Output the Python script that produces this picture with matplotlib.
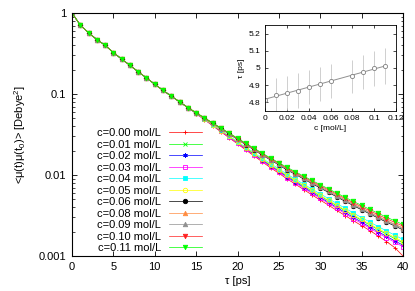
import numpy as np
import matplotlib
matplotlib.use("Agg")
import matplotlib.pyplot as plt
from matplotlib.ticker import FixedLocator, LogLocator, NullFormatter, FuncFormatter

plt.rcParams['font.family'] = ['Liberation Sans', 'DejaVu Sans']
plt.rcParams['font.size'] = 8
plt.rcParams['mathtext.fontset'] = 'custom'
plt.rcParams['mathtext.rm'] = 'Liberation Sans'
plt.rcParams['mathtext.it'] = 'Liberation Sans:italic'

# time axis [ps]
tau = list(range(41))

# t = 0..14, all concentrations lie on top of each other
head = [1.0, 0.71, 0.57, 0.47, 0.40, 0.325, 0.27, 0.226, 0.188, 0.158,
        0.132, 0.111, 0.094, 0.080, 0.068]

# t = 15..40 for each concentration
tail_000 = [0.0573, 0.0482, 0.0406, 0.0341, 0.0288, 0.0242, 0.0204, 0.0172, 0.0145, 0.0123,
            0.0105, 0.00893, 0.00770, 0.00660, 0.00568, 0.00490, 0.00424, 0.00365, 0.00316,
            0.00273, 0.00237, 0.00206, 0.00177, 0.00151, 0.00127, 0.00100]
tail_001 = [0.0577, 0.0489, 0.0415, 0.0351, 0.0298, 0.0252, 0.0214, 0.0182, 0.0155, 0.0132,
            0.0114, 0.00973, 0.00846, 0.00730, 0.00633, 0.00550, 0.00479, 0.00416, 0.00362,
            0.00315, 0.00275, 0.00241, 0.00212, 0.00186, 0.00164, 0.00145]
tail_002 = [0.0576, 0.0486, 0.0412, 0.0348, 0.0295, 0.0249, 0.0211, 0.0179, 0.0152, 0.0129,
            0.0111, 0.00945, 0.00819, 0.00705, 0.00610, 0.00529, 0.00459, 0.00398, 0.00345,
            0.00300, 0.00262, 0.00228, 0.00200, 0.00175, 0.00154, 0.00136]
tail_003 = [0.0575, 0.0485, 0.0410, 0.0346, 0.0292, 0.0246, 0.0208, 0.0176, 0.0149, 0.0127,
            0.0109, 0.00926, 0.00802, 0.00688, 0.00595, 0.00515, 0.00446, 0.00386, 0.00334,
            0.00290, 0.00252, 0.00220, 0.00192, 0.00168, 0.00148, 0.00130]
tail_004 = [0.0579, 0.0493, 0.0420, 0.0357, 0.0304, 0.0258, 0.0220, 0.0188, 0.0160, 0.0138,
            0.0119, 0.0102, 0.00889, 0.00770, 0.00670, 0.00585, 0.00511, 0.00445, 0.00389,
            0.00340, 0.00298, 0.00262, 0.00231, 0.00204, 0.00181, 0.00160]
tail_005 = [0.0578, 0.0490, 0.0417, 0.0353, 0.0300, 0.0254, 0.0216, 0.0184, 0.0157, 0.0134,
            0.0115, 0.00989, 0.00861, 0.00743, 0.00646, 0.00562, 0.00490, 0.00426, 0.00371,
            0.00324, 0.00283, 0.00248, 0.00218, 0.00192, 0.00170, 0.00150]
tail_006 = [0.0586, 0.0503, 0.0433, 0.0372, 0.0320, 0.0275, 0.0237, 0.0204, 0.0176, 0.0153,
            0.0133, 0.0115, 0.0102, 0.00891, 0.00784, 0.00691, 0.00610, 0.00537, 0.00474,
            0.00419, 0.00372, 0.00330, 0.00294, 0.00262, 0.00235, 0.00210]
tail_008 = [0.0587, 0.0505, 0.0436, 0.0376, 0.0324, 0.0279, 0.0241, 0.0208, 0.0180, 0.0156,
            0.0136, 0.0119, 0.0105, 0.00920, 0.00812, 0.00717, 0.00634, 0.00560, 0.00495,
            0.00439, 0.00390, 0.00347, 0.00310, 0.00276, 0.00248, 0.00223]
tail_009 = [0.0586, 0.0505, 0.0435, 0.0374, 0.0323, 0.0278, 0.0240, 0.0207, 0.0179, 0.0155,
            0.0135, 0.0118, 0.0104, 0.00910, 0.00802, 0.00708, 0.00626, 0.00552, 0.00488,
            0.00431, 0.00383, 0.00340, 0.00304, 0.00271, 0.00243, 0.00218]
tail_010 = [0.0588, 0.0507, 0.0439, 0.0378, 0.0327, 0.0282, 0.0244, 0.0211, 0.0183, 0.0159,
            0.0139, 0.0121, 0.0107, 0.00944, 0.00834, 0.00738, 0.00655, 0.00579, 0.00513,
            0.00455, 0.00405, 0.00361, 0.00323, 0.00289, 0.00260, 0.00234]
tail_011 = [0.0589, 0.0509, 0.0441, 0.0381, 0.0330, 0.0285, 0.0247, 0.0214, 0.0186, 0.0162,
            0.0142, 0.0124, 0.0110, 0.00968, 0.00857, 0.00760, 0.00675, 0.00598, 0.00531,
            0.00472, 0.00421, 0.00376, 0.00337, 0.00302, 0.00272, 0.00245]

labels = ['c=0.00 mol/L', 'c=0.01 mol/L', 'c=0.02 mol/L', 'c=0.03 mol/L', 'c=0.04 mol/L',
          'c=0.05 mol/L', 'c=0.06 mol/L', 'c=0.08 mol/L', 'c=0.09 mol/L', 'c=0.10 mol/L',
          'c=0.11 mol/L']
tails = [tail_000, tail_001, tail_002, tail_003, tail_004, tail_005, tail_006,
         tail_008, tail_009, tail_010, tail_011]

# inset: relaxation time vs concentration
conc = [0.0, 0.01, 0.02, 0.03, 0.04, 0.05, 0.06, 0.08, 0.09, 0.10, 0.11]
tau_fit = [4.813, 4.841, 4.856, 4.869, 4.889, 4.908, 4.926, 4.951, 4.977, 4.998, 5.011]
tau_err = [0.0, 0.10, 0.10, 0.10, 0.10, 0.097, 0.10, 0.096, 0.098, 0.10, 0.105]

colors = ['#ff0000', '#00ff00', '#0000ff', '#ff00ff', '#00ffff', '#ffff00', '#000000',
          '#ff8c40', '#909090', '#ff2020', '#00ff00']
markers = ['+', 'x', (6, 2, 0), 's', 's', 'o', 'o', '^', '^', 'v', 'v']
filled = [True, True, True, False, True, False, True, True, True, True, True]

fig = plt.figure(figsize=(4.15, 2.91), dpi=100)
ax = fig.add_axes([72 / 415, 1 - 256 / 291, 331 / 415, 243 / 291])

for lab, tl, col, mk, fl in zip(labels, tails, colors, markers, filled):
    ax.plot(tau, head + tl, color=col, lw=0.5, marker=mk, ms=3.2, mew=0.6,
            mfc=col if fl else 'none', mec=col, label=lab)

ax.set_yscale('log')
ax.set_xlim(0, 40)
ax.set_ylim(1e-3, 1)
ax.xaxis.set_major_locator(FixedLocator([0, 5, 10, 15, 20, 25, 30, 35, 40]))
ax.yaxis.set_major_locator(FixedLocator([1e-3, 1e-2, 1e-1, 1]))
ax.yaxis.set_major_formatter(FuncFormatter(lambda v, p: '%g' % v))
ax.yaxis.set_minor_locator(LogLocator(base=10, subs=np.arange(2, 10)))
ax.yaxis.set_minor_formatter(NullFormatter())
ax.tick_params(which='both', direction='in', top=True, right=True, labelsize=8, pad=4)
ax.tick_params(which='major', length=3.5, width=0.6)
ax.tick_params(which='minor', length=1.8, width=0.5)
for s in ax.spines.values():
    s.set_linewidth(0.8)
ax.set_xlabel(r'τ [ps]', fontsize=8, labelpad=3)
ax.set_ylabel(r'<μ(t)μ(t$_0$)> [Debye$^2$]', fontsize=8, labelpad=8)

ax.legend(loc='lower right', bbox_to_anchor=(0.393, 0.012), frameon=False, fontsize=8,
          markerfirst=False, numpoints=1, handlelength=3.0, handletextpad=0.7,
          labelspacing=0.135, borderpad=0, borderaxespad=0)

# inset
ins = fig.add_axes([265 / 415, 1 - 111 / 291, 131 / 415, 86 / 291])
slope, icpt = np.polyfit(conc, tau_fit, 1)
cfit = np.array([conc[0], conc[-1]])
ins.plot(cfit, icpt + slope * cfit, color='#909090', lw=0.7)
ins.errorbar(conc, tau_fit, yerr=tau_err, fmt='o', ms=3, mfc='white', mec='#808080',
             mew=0.6, ecolor='#c8c8c8', elinewidth=0.6, capsize=0)
ins.set_xlim(0, 0.12)
ins.set_ylim(4.75, 5.25)
ins.xaxis.set_major_locator(FixedLocator([0, 0.02, 0.04, 0.06, 0.08, 0.1, 0.12]))
ins.yaxis.set_major_locator(FixedLocator([4.8, 4.9, 5.0, 5.1, 5.2]))
ins.xaxis.set_major_formatter(FuncFormatter(lambda v, p: '%g' % v))
ins.yaxis.set_major_formatter(FuncFormatter(lambda v, p: '%g' % v))
ins.tick_params(direction='in', top=True, right=True, labelsize=6, length=2.5,
                width=0.5, pad=3)
for s in ins.spines.values():
    s.set_linewidth(0.6)
ins.set_xlabel('c [mol/L]', fontsize=6, labelpad=2)
ins.set_ylabel('τ [ps]', fontsize=6, labelpad=3)

fig.savefig('out.png', dpi=100)
